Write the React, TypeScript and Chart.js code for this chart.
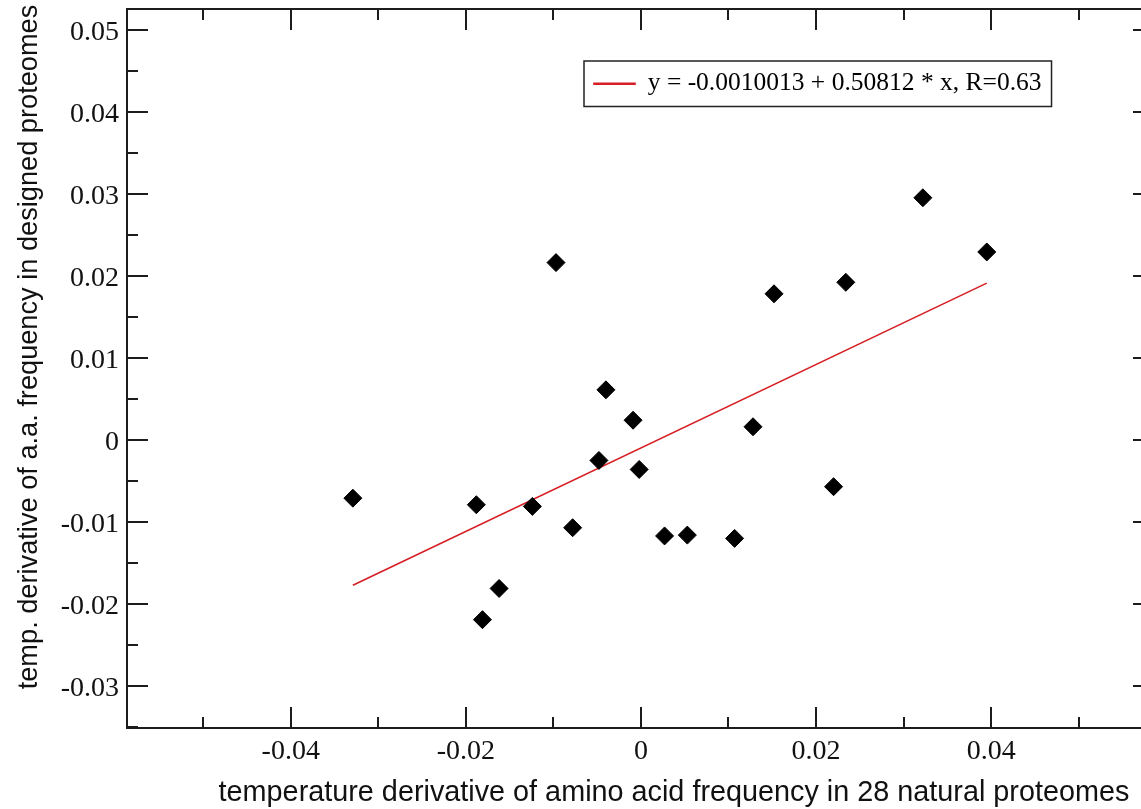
import React, { useEffect, useRef } from 'react';
import { Chart, registerables } from 'chart.js';

Chart.register(...registerables);

// temperature derivative of amino acid frequency (natural proteomes)
const naturalX = [
  -0.0329, -0.0188, -0.0124, -0.0181, -0.0162, -0.0097, -0.0078, -0.0040, -0.0048, -0.0009,
  -0.0002, 0.0027, 0.0053, 0.0107, 0.0128, 0.0152, 0.0220, 0.0234, 0.0322, 0.0395,
];
// temperature derivative of a.a. frequency (designed proteomes)
const designedY = [
  -0.0071, -0.0079, -0.0081, -0.0219, -0.0181, 0.0216, -0.0107, 0.0061, -0.0025, 0.0024,
  -0.0036, -0.0117, -0.0116, -0.0120, 0.0016, 0.0178, -0.0057, 0.0192, 0.0295, 0.0229,
];
// regression line end points
const fitX = [-0.0329, 0.0395];
const fitY = [-0.0177, 0.0191];

const fitLabel = 'y = -0.0010013 + 0.50812 * x, R=0.63';
const xTitle = 'temperature derivative of amino acid frequency in 28 natural proteomes';
const yTitle = 'temp. derivative of a.a. frequency in designed proteomes';

const xRange = [-0.0587, 0.0586];
const yRange = [-0.0351, 0.0525];
const xTickStep = 0.01;
const yTickStep = 0.005;

const SERIF = '"Liberation Serif", "Times New Roman", Times, serif';
const SANS = '"Liberation Sans", Arial, Helvetica, sans-serif';

const isMajorX = (v: number) => Math.round(v / xTickStep) % 2 === 0;
const isMajorY = (v: number) => Math.round(v / yTickStep) % 2 === 0;
const fmt = (v: number) => String(Math.round(v * 100) / 100);

const framePlugin = {
  id: 'graceFrame',
  afterLayout(chart: any) {
    const lg = chart.legend;
    const ca = chart.chartArea;
    if (lg && ca) {
      const w = lg.width;
      const h = lg.height;
      lg.left = ca.left + 457;
      lg.top = ca.top + 52;
      lg.right = lg.left + w;
      lg.bottom = lg.top + h;
    }
  },
  afterDraw(chart: any) {
    const { ctx, chartArea } = chart;
    const { left, right, top, bottom } = chartArea;
    const xs = chart.scales.x;
    const ys = chart.scales.y;
    ctx.save();
    ctx.strokeStyle = '#1c1c1c';
    ctx.lineWidth = 2;
    ctx.strokeRect(left, top, right - left, bottom - top);
    ctx.beginPath();
    xs.ticks.forEach((t: any) => {
      const px = Math.round(xs.getPixelForValue(t.value));
      const len = isMajorX(t.value) ? 21 : 11;
      ctx.moveTo(px, bottom);
      ctx.lineTo(px, bottom - len);
      ctx.moveTo(px, top);
      ctx.lineTo(px, top + len);
    });
    ys.ticks.forEach((t: any) => {
      const py = Math.round(ys.getPixelForValue(t.value));
      const major = isMajorY(t.value);
      const len = major ? 21 : 11;
      ctx.moveTo(left, py);
      ctx.lineTo(left + len, py);
      if (major) {
        ctx.moveTo(right, py);
        ctx.lineTo(right - 21, py);
      }
    });
    ctx.stroke();

    // legend frame
    const lg = chart.legend;
    if (lg && lg.legendHitBoxes && lg.legendHitBoxes.length) {
      const hb = lg.legendHitBoxes[0];
      const pad = 10;
      ctx.lineWidth = 1.5;
      ctx.strokeStyle = '#222';
      ctx.strokeRect(hb.left - pad, hb.top - pad, hb.width + 2 * pad, hb.height + 2 * pad);
    }

    // axis titles
    ctx.fillStyle = '#111';
    ctx.textAlign = 'center';
    ctx.textBaseline = 'alphabetic';
    ctx.font = `28.8px ${SANS}`;
    ctx.fillText(xTitle, 674, 801);
    ctx.font = `27.2px ${SANS}`;
    ctx.translate(37, 347);
    ctx.rotate(-Math.PI / 2);
    ctx.fillText(yTitle, 0, 0);
    ctx.restore();
  },
};

export default function App() {
  const ref = useRef<HTMLCanvasElement | null>(null);

  useEffect(() => {
    if (!ref.current) return;
    const chart = new Chart(ref.current, {
      type: 'scatter',
      data: {
        datasets: [
          {
            type: 'scatter',
            label: 'amino acids',
            data: naturalX.map((x, i) => ({ x, y: designedY[i] })),
            pointStyle: 'rectRot',
            pointRadius: 9,
            pointHoverRadius: 9,
            backgroundColor: '#000',
            borderColor: '#000',
            borderWidth: 1,
          } as any,
          {
            type: 'line',
            label: fitLabel,
            data: fitX.map((x, i) => ({ x, y: fitY[i] })),
            borderColor: 'rgb(214, 30, 36)',
            backgroundColor: 'rgb(214, 30, 36)',
            borderWidth: 1.6,
            pointRadius: 0,
            fill: false,
          } as any,
        ],
      },
      options: {
        responsive: false,
        animation: false,
        devicePixelRatio: 1,
        events: [],
        layout: { autoPadding: false, padding: { left: 0, top: 9, right: 0, bottom: 0 } },
        plugins: {
          tooltip: { enabled: false },
          title: { display: false },
          legend: {
            display: true,
            position: 'chartArea',
            align: 'start',
            labels: {
              filter: (item: any) => item.text === fitLabel,
              font: { family: SERIF, size: 25.5 },
              color: '#000',
              boxWidth: 41,
              boxHeight: 1,
              padding: 10,
            },
          },
        },
        scales: {
          x: {
            type: 'linear',
            position: 'bottom',
            min: xRange[0],
            max: xRange[1],
            bounds: 'ticks',
            grid: { display: false, drawTicks: false },
            border: { display: false },
            ticks: {
              stepSize: xTickStep,
              includeBounds: false,
              autoSkip: false,
              maxTicksLimit: 100,
              maxRotation: 0,
              minRotation: 0,
              padding: 7,
              color: '#111',
              font: { family: SERIF, size: 28 },
              callback: (v: any) => (isMajorX(Number(v)) ? fmt(Number(v)) : ''),
            },
            afterFit: (s: any) => {
              s.height = 81;
              s.paddingLeft = 0;
              s.paddingRight = 0;
            },
          },
          y: {
            type: 'linear',
            position: 'left',
            min: yRange[0],
            max: yRange[1],
            bounds: 'ticks',
            grid: { display: false, drawTicks: false },
            border: { display: false },
            ticks: {
              stepSize: yTickStep,
              includeBounds: false,
              autoSkip: false,
              maxTicksLimit: 100,
              padding: 8,
              labelOffset: 3,
              color: '#111',
              font: { family: SERIF, size: 28 },
              callback: (v: any) => (isMajorY(Number(v)) ? fmt(Number(v)) : ''),
            },
            afterFit: (s: any) => {
              s.width = 127;
              s.paddingTop = 0;
              s.paddingBottom = 0;
            },
          },
        },
      } as any,
      plugins: [framePlugin],
    });
    return () => chart.destroy();
  }, []);

  return (
    <div
      style={{
        position: 'absolute',
        left: 0,
        top: 0,
        width: 1141,
        height: 809,
        overflow: 'hidden',
        background: '#fff',
      }}
    >
      <canvas ref={ref} width={1154} height={809} style={{ display: 'block' }} />
    </div>
  );
}
